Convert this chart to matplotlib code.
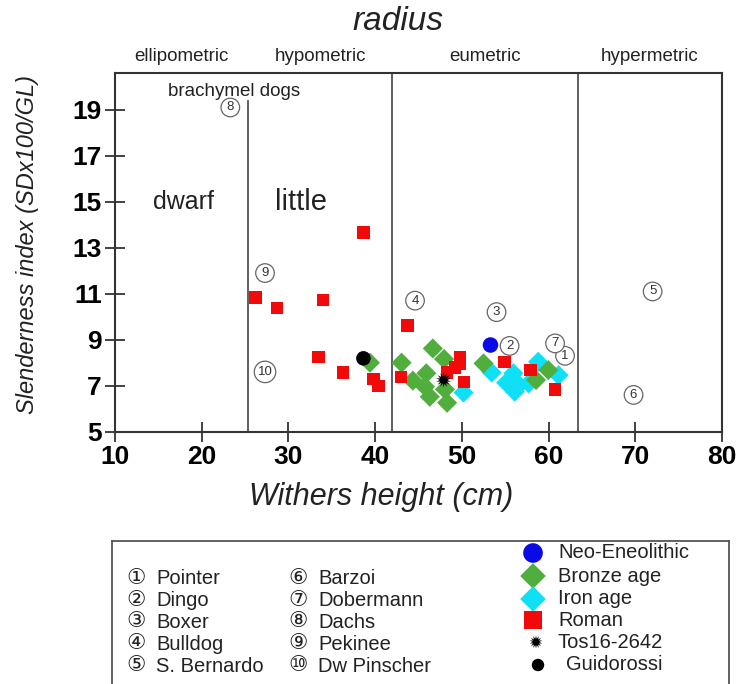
import numpy as np
import matplotlib
matplotlib.use("Agg")
import matplotlib.pyplot as plt

plt.rcParams['font.family'] = ['Liberation Sans', 'DejaVu Sans']

# ---------------- data ----------------
roman_x = [26.2, 28.65, 34.0, 33.45, 36.3, 39.8, 40.4, 38.65, 43.75, 43.0,
           49.8, 49.8, 49.2, 48.3, 50.25, 54.9, 57.9, 60.75]
roman_y = [10.83, 10.37, 10.73, 8.26, 7.58, 7.29, 6.99, 13.67, 9.61, 7.37,
           8.26, 7.97, 7.8, 7.57, 7.15, 8.04, 7.68, 6.84]

bronze_x = [39.4, 43.05, 44.35, 45.9, 45.75, 46.3, 46.65, 47.95, 48.05, 48.3,
            52.5, 58.55, 59.97]
bronze_y = [8.0, 8.0, 7.22, 7.54, 6.96, 6.52, 8.62, 8.16, 6.84, 6.26,
            7.97, 7.25, 7.68]

iron_x = [50.2, 53.45, 55.1, 55.95, 56.6, 56.1, 57.7, 58.8, 61.15]
iron_y = [6.7, 7.57, 7.13, 7.54, 7.03, 6.74, 7.1, 8.04, 7.46]

neo_x, neo_y = [53.3], [8.77]
tos_x, tos_y = [47.9], [7.25]
guido_x, guido_y = [38.65], [8.19]

# modern breeds (reference points)
breed_num = ['1', '2', '3', '4', '5', '6', '7', '8', '9', '10']
breed_names = ['Pointer', 'Dingo', 'Boxer', 'Bulldog', 'S. Bernardo',
               'Barzoi', 'Dobermann', 'Dachs', 'Pekinee', 'Dw Pinscher']
breed_x = [61.9, 55.5, 54.0, 44.6, 72.0, 69.8, 60.75, 23.3, 27.3, 27.3]
breed_y = [8.3, 8.73, 10.2, 10.7, 11.1, 6.6, 8.84, 19.1, 11.9, 7.6]
circled = ['\u2460', '\u2461', '\u2462', '\u2463', '\u2464',
           '\u2465', '\u2466', '\u2467', '\u2468', '\u2469']

size_classes = ['ellipometric', 'hypometric', 'eumetric', 'hypermetric']
class_bounds = [10, 25.3, 42, 63.4, 80]

periods = ['Neo-Eneolithic', 'Bronze age', 'Iron age', 'Roman', 'Tos16-2642', 'Guidorossi']

x_ticks = [10, 20, 30, 40, 50, 60, 70, 80]
y_ticks = [5, 7, 9, 11, 13, 15, 17, 19]

C_NEO = '#0a0ae6'
C_BRONZE = '#4fae3c'
C_IRON = '#10e0f5'
C_ROMAN = '#f20a0a'

# ---------------- figure ----------------
W, H = 742, 684
fig = plt.figure(figsize=(W / 100, H / 100), dpi=100)
ax = fig.add_axes([115 / W, 1 - 431.7 / H, (722 - 115) / W, (431.7 - 73) / H])

ax.scatter(iron_x, iron_y, marker='D', s=105, color=C_IRON, edgecolors='none', zorder=3)
ax.scatter(bronze_x, bronze_y, marker='D', s=105, color=C_BRONZE, edgecolors='none', zorder=3)
ax.scatter(roman_x, roman_y, marker='s', s=80, color=C_ROMAN, edgecolors='none', zorder=4)
ax.scatter(neo_x, neo_y, marker='o', s=125, color=C_NEO, edgecolors='none', zorder=5)
ax.scatter(guido_x, guido_y, marker='o', s=110, color='black', edgecolors='none', zorder=5)
ax.scatter(tos_x, tos_y, marker=(14, 1, 0), s=120, color='black', edgecolors='none', zorder=6)

for n, bx, by in zip(breed_num, breed_x, breed_y):
    ax.text(bx, by, n, fontsize=9.5, ha='center', va='center', color='#333333', zorder=7,
            bbox=dict(boxstyle='circle,pad=0.25', fc='white', ec='#666666', lw=0.9))

# size class separators
ax.plot([class_bounds[1]] * 2, [5, 19.4], color='#444444', lw=1.2, zorder=2)
for b in class_bounds[2:4]:
    ax.axvline(b, color='#444444', lw=1.2, zorder=2)

for name, lo, hi in zip(size_classes, class_bounds[:-1], class_bounds[1:]):
    ax.text((lo + hi) / 2, 1.045, name, transform=ax.get_xaxis_transform(),
            ha='center', va='center', fontsize=13.5, color='#222222')

ax.text(25.3 - 1.6, 19.8, 'brachymel dogs', ha='center', va='center', fontsize=13.5, color='#222222')
ax.text(17.9, 15.0, 'dwarf', ha='center', va='center', fontsize=18, color='#222222')
ax.text(31.4, 15.0, 'little', ha='center', va='center', fontsize=21, color='#222222')

ax.set_xlim(10, 80)
ax.set_ylim(5, 20.6)
ax.set_xticks(x_ticks)
ax.set_yticks(y_ticks)
ax.tick_params(direction='inout', length=15, width=1.3, color='#333333', pad=2,
               labelsize=19)
for lab in ax.get_xticklabels() + ax.get_yticklabels():
    lab.set_fontweight('bold')
for sp in ax.spines.values():
    sp.set_linewidth(1.5)
    sp.set_color('#333333')

fig.text(381 / W, 1 - 497 / H, 'Withers height (cm)', ha='center', va='center',
         fontsize=22, style='italic', color='#222222')
fig.text(28 / W, 1 - 245 / H, 'Slenderness index (SDx100/GL)', ha='center', va='center',
         rotation=90, fontsize=17, style='italic', color='#222222')
fig.text(398 / W, 1 - 30 / H, 'radius', ha='center', va='baseline',
         fontsize=24, style='italic', color='#222222')

# ---------------- legend box ----------------
lax = fig.add_axes([112 / W, 0, (729 - 112) / W, (H - 541) / H])
lax.set_xlim(112, 729)
lax.set_ylim(H, 541)
lax.set_xticks([])
lax.set_yticks([])
lax.spines['bottom'].set_visible(False)
for s in ['top', 'left', 'right']:
    lax.spines[s].set_linewidth(1.3)
    lax.spines[s].set_color('#555555')

rows = [578, 600, 621, 643, 665]
for i in range(5):
    lax.text(136, rows[i], circled[i], ha='center', va='center', fontsize=15.5,
             family='DejaVu Sans', color='#222222')
    lax.text(156, rows[i] + 1, breed_names[i], ha='left', va='center', fontsize=14.5,
             color='#222222')
    lax.text(298, rows[i], circled[i + 5], ha='center', va='center', fontsize=15.5,
             family='DejaVu Sans', color='#222222')
    lax.text(318, rows[i] + 1, breed_names[i + 5], ha='left', va='center', fontsize=14.5,
             color='#222222')

prow = [553, 576, 599, 620, 642, 665]
lax.scatter([533], [prow[0]], marker='o', s=200, color=C_NEO, edgecolors='none')
lax.scatter([533], [prow[1]], marker='D', s=170, color=C_BRONZE, edgecolors='none')
lax.scatter([533], [prow[2]], marker='D', s=170, color=C_IRON, edgecolors='none')
lax.scatter([533], [prow[3]], marker='s', s=150, color=C_ROMAN, edgecolors='none')
lax.scatter([536], [prow[4]], marker=(14, 1, 0), s=90, color='black', edgecolors='none')
lax.scatter([538], [prow[5]], marker='o', s=80, color='black', edgecolors='none')
for j, p in enumerate(periods):
    xt = 558 if j < 5 else 566
    lax.text(xt, prow[j], p, ha='left', va='center', fontsize=14.5, color='#222222')

fig.savefig('out.png', dpi=100)
